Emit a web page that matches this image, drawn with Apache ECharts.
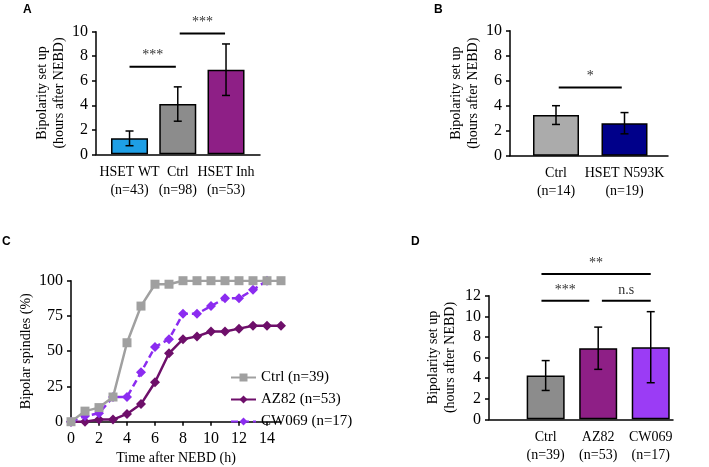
<!DOCTYPE html>
<html><head><meta charset="utf-8">
<script src="https://cdn.jsdelivr.net/npm/echarts@6/dist/echarts.min.js"></script>
<style>html,body{margin:0;padding:0;background:#fff}#c{width:709px;height:467px}</style>
</head><body><div id="c"></div><script>
// ---------- Panel A ----------
const aCategories = ['HSET WT\n(n=43)', 'Ctrl\n(n=98)', 'HSET Inh\n(n=53)'];
const aMeans = [1.3, 4.1, 6.9];
const aErrors = [0.6, 1.4, 2.1];
const aYTicks = [0, 2, 4, 6, 8, 10];
const aSigStart = [0, 1.04];
const aSigEnd = [0.96, 1.98];
const aSigLevel = [7.15, 9.85];
const aSigText = ['***', '***'];
// ---------- Panel B ----------
const bCategories = ['Ctrl\n(n=14)', 'HSET N593K\n(n=19)'];
const bMeans = [3.25, 2.6];
const bErrors = [0.75, 0.85];
const bYTicks = [0, 2, 4, 6, 8, 10];
const bSigStart = [0.04];
const bSigEnd = [0.96];
const bSigLevel = [5.45];
const bSigText = ['*'];
// ---------- Panel C ----------
const cTime = [0, 1, 2, 3, 4, 5, 6, 7, 8, 9, 10, 11, 12, 13, 14, 15];
const cCtrl = [0, 7.5, 10, 17.5, 56, 82, 97.5, 97.5, 100, 100, 100, 100, 100, 100, 100, 100];
const cAZ82 = [0, 0, 1.5, 1.5, 5.5, 12.5, 28, 48.5, 58.5, 60.5, 64, 64, 66, 68, 68, 68];
const cCW069 = [0, 4, 6, 17.5, 17.5, 35, 53, 58.5, 76.5, 76.5, 82, 87.5, 87.5, 93.5, 100];
const cSeriesNames = ['Ctrl (n=39)', 'AZ82 (n=53)', 'CW069 (n=17)'];
const cXTicks = [0, 2, 4, 6, 8, 10, 12, 14];
const cXMax = 15;
const cYTicks = [0, 25, 50, 75, 100];
// ---------- Panel D ----------
const dCategories = ['Ctrl\n(n=39)', 'AZ82\n(n=53)', 'CW069\n(n=17)'];
const dMeans = [4.25, 6.9, 7.0];
const dErrors = [1.45, 2.05, 3.45];
const dYTicks = [0, 2, 4, 6, 8, 10, 12];
const dSigStart = [-0.08, 1.07, -0.08];
const dSigEnd = [0.83, 2.0, 2.0];
const dSigLevel = [11.5, 11.5, 14.1];
const dSigText = ['***', 'n.s', '**'];

const serif = 'Liberation Serif';
const colorsA = ['#1e9fe6', '#8c8c8c', '#8e1f86'];
const colorsB = ['#ababab', '#00008a'];
const colorsD = ['#8c8c8c', '#8e1f86', '#9b3cf5'];
const lineColors = ['#a0a0a0', '#6e0f6a', '#8b2cf0'];

function yAxisVisible(grid, ticks, name, nameGap) {
  return {type: 'value', gridIndex: grid, min: ticks[0], max: ticks[ticks.length - 1], interval: ticks[1] - ticks[0],
    name: name, nameLocation: 'middle', nameGap: nameGap,
    nameTextStyle: {fontFamily: serif, fontSize: 14, color: '#000', lineHeight: 17},
    axisLine: {show: true, lineStyle: {color: '#000', width: 1.5}},
    axisTick: {show: true, length: 4, lineStyle: {color: '#000', width: 1.5}},
    axisLabel: {fontFamily: serif, fontSize: 16, color: '#000', margin: 8},
    splitLine: {show: false}};
}
function yAxisHidden(grid, ticks) {
  return {type: 'value', gridIndex: grid, min: ticks[0], max: ticks[ticks.length - 1], show: false};
}
function xAxisLine(grid) {
  return {type: 'value', gridIndex: grid, min: 0, max: 1, axisLine: {show: true, onZero: false, lineStyle: {color: '#000', width: 1.5}},
    axisTick: {show: false}, axisLabel: {show: false}, splitLine: {show: false}};
}
function xAxisCats(grid, cats) {
  return {type: 'category', gridIndex: grid, data: cats, axisLine: {show: false}, axisTick: {show: false},
    axisLabel: {fontFamily: serif, fontSize: 14, color: '#000', lineHeight: 18, margin: 9, interval: 0}};
}
function barSeries(idx, means, colors, width) {
  return {type: 'bar', xAxisIndex: idx, yAxisIndex: idx, barWidth: width, silent: true,
    itemStyle: {borderColor: '#000', borderWidth: 1.5},
    data: means.map((v, i) => ({value: v, itemStyle: {color: colors[i]}}))};
}
function errSeries(idx, means, errs) {
  return {type: 'custom', xAxisIndex: idx, yAxisIndex: idx, clip: false, silent: true, z: 4,
    data: means.map((m, i) => [i, m - errs[i], m + errs[i]]),
    encode: {x: 0, y: [1, 2]},
    renderItem: function (p, api) {
      const lo = api.coord([api.value(0), api.value(1)]);
      const hi = api.coord([api.value(0), api.value(2)]);
      const st = {stroke: '#000', lineWidth: 1.5};
      return {type: 'group', children: [
        {type: 'line', shape: {x1: lo[0], y1: lo[1], x2: hi[0], y2: hi[1]}, style: st},
        {type: 'line', shape: {x1: lo[0] - 4, y1: lo[1], x2: lo[0] + 4, y2: lo[1]}, style: st},
        {type: 'line', shape: {x1: hi[0] - 4, y1: hi[1], x2: hi[0] + 4, y2: hi[1]}, style: st}
      ]};
    }};
}
function sigSeries(idx, starts, ends, levels, texts) {
  return {type: 'custom', xAxisIndex: idx, yAxisIndex: idx, clip: false, silent: true, z: 5,
    data: starts.map((s, i) => [0, s, ends[i], levels[i]]),
    encode: {x: 0, y: 3},
    renderItem: function (p, api) {
      const y = api.value(3);
      const c0 = api.coord([0, y]);
      const c1 = api.coord([1, y]);
      const bw = c1[0] - c0[0];
      const x1 = c0[0] + api.value(1) * bw;
      const x2 = c0[0] + api.value(2) * bw;
      return {type: 'group', children: [
        {type: 'line', shape: {x1: x1, y1: c0[1], x2: x2, y2: c0[1]}, style: {stroke: '#000', lineWidth: 2}},
        {type: 'text', style: {text: texts[p.dataIndex], x: (x1 + x2) / 2, y: c0[1] - 4, align: 'center', verticalAlign: 'bottom',
          fontFamily: serif, fontSize: 14, fill: '#333'}}
      ]};
    }};
}

const yName = 'Bipolarity set up\n(hours after NEBD)';
const grids = [
  {left: 96, top: 31.7, width: 164, height: 122.6},
  {left: 105.4, top: 31.7, width: 144.75, height: 122.6},
  {left: 510, top: 30.7, width: 158, height: 125},
  {left: 521.75, top: 30.7, width: 137, height: 125},
  {left: 71, top: 280.7, width: 210, height: 141},
  {left: 489, top: 295.7, width: 184, height: 123.6},
  {left: 519.4, top: 295.7, width: 157.6, height: 123.6}
].map(g => Object.assign({outerBoundsMode: 'none', containLabel: false}, g));

const lineBase = {type: 'line', xAxisIndex: 4, yAxisIndex: 4, silent: true};
const option = {
  animation: false,
  grid: grids,
  xAxis: [
    xAxisLine(0), xAxisCats(1, aCategories),
    xAxisLine(2), xAxisCats(3, bCategories),
    {type: 'value', gridIndex: 4, min: cXTicks[0], max: cXMax, interval: cXTicks[1] - cXTicks[0],
      name: 'Time after NEBD (h)', nameLocation: 'middle', nameGap: 30,
      nameTextStyle: {fontFamily: serif, fontSize: 14, color: '#000'},
      axisLine: {show: true, onZero: false, lineStyle: {color: '#000', width: 1.5}},
      axisTick: {show: true, length: 4, lineStyle: {color: '#000', width: 1.5}},
      axisLabel: {fontFamily: serif, fontSize: 16, color: '#000', margin: 9, showMaxLabel: false},
      splitLine: {show: false}},
    xAxisLine(5), xAxisCats(6, dCategories)
  ],
  yAxis: [
    yAxisVisible(0, aYTicks, yName, 25), yAxisHidden(1, aYTicks),
    yAxisVisible(2, bYTicks, yName, 28), yAxisHidden(3, bYTicks),
    yAxisVisible(4, cYTicks, 'Bipolar spindles (%)', 35),
    yAxisVisible(5, dYTicks, yName, 30), yAxisHidden(6, dYTicks)
  ],
  legend: {orient: 'vertical', left: 225, top: 365, itemWidth: 25, itemHeight: 10, itemGap: 7,
    textStyle: {fontFamily: serif, fontSize: 15, color: '#000'}, data: cSeriesNames},
  graphic: [
    {type: 'text', x: 23, y: 4, style: {text: 'A', font: 'bold 12px "Liberation Sans"', fill: '#000'}},
    {type: 'text', x: 434, y: 4, style: {text: 'B', font: 'bold 12px "Liberation Sans"', fill: '#000'}},
    {type: 'text', x: 2, y: 236, style: {text: 'C', font: 'bold 12px "Liberation Sans"', fill: '#000'}},
    {type: 'text', x: 411, y: 236, style: {text: 'D', font: 'bold 12px "Liberation Sans"', fill: '#000'}}
  ],
  series: [
    barSeries(1, aMeans, colorsA, 37), errSeries(1, aMeans, aErrors), sigSeries(1, aSigStart, aSigEnd, aSigLevel, aSigText),
    barSeries(3, bMeans, colorsB, 46), errSeries(3, bMeans, bErrors), sigSeries(3, bSigStart, bSigEnd, bSigLevel, bSigText),
    Object.assign({}, lineBase, {name: cSeriesNames[1], z: 3, data: cAZ82.map((v, i) => [cTime[i], v]),
      symbol: 'diamond', symbolSize: 10, lineStyle: {color: lineColors[1], width: 2.5}, itemStyle: {color: lineColors[1]}}),
    Object.assign({}, lineBase, {name: cSeriesNames[2], z: 4, data: cCW069.map((v, i) => [cTime[i], v]),
      symbol: 'diamond', symbolSize: 10, lineStyle: {color: lineColors[2], width: 2.5, type: [7, 4]}, itemStyle: {color: lineColors[2]}}),
    Object.assign({}, lineBase, {name: cSeriesNames[0], z: 5, data: cCtrl.map((v, i) => [cTime[i], v]),
      symbol: 'rect', symbolSize: 9, lineStyle: {color: lineColors[0], width: 2.5}, itemStyle: {color: lineColors[0]}}),
    barSeries(6, dMeans, colorsD, 38), errSeries(6, dMeans, dErrors), sigSeries(6, dSigStart, dSigEnd, dSigLevel, dSigText)
  ]
};
const chart = echarts.init(document.getElementById('c'), null, {renderer: 'canvas'});
chart.setOption(option);
</script></body></html>
